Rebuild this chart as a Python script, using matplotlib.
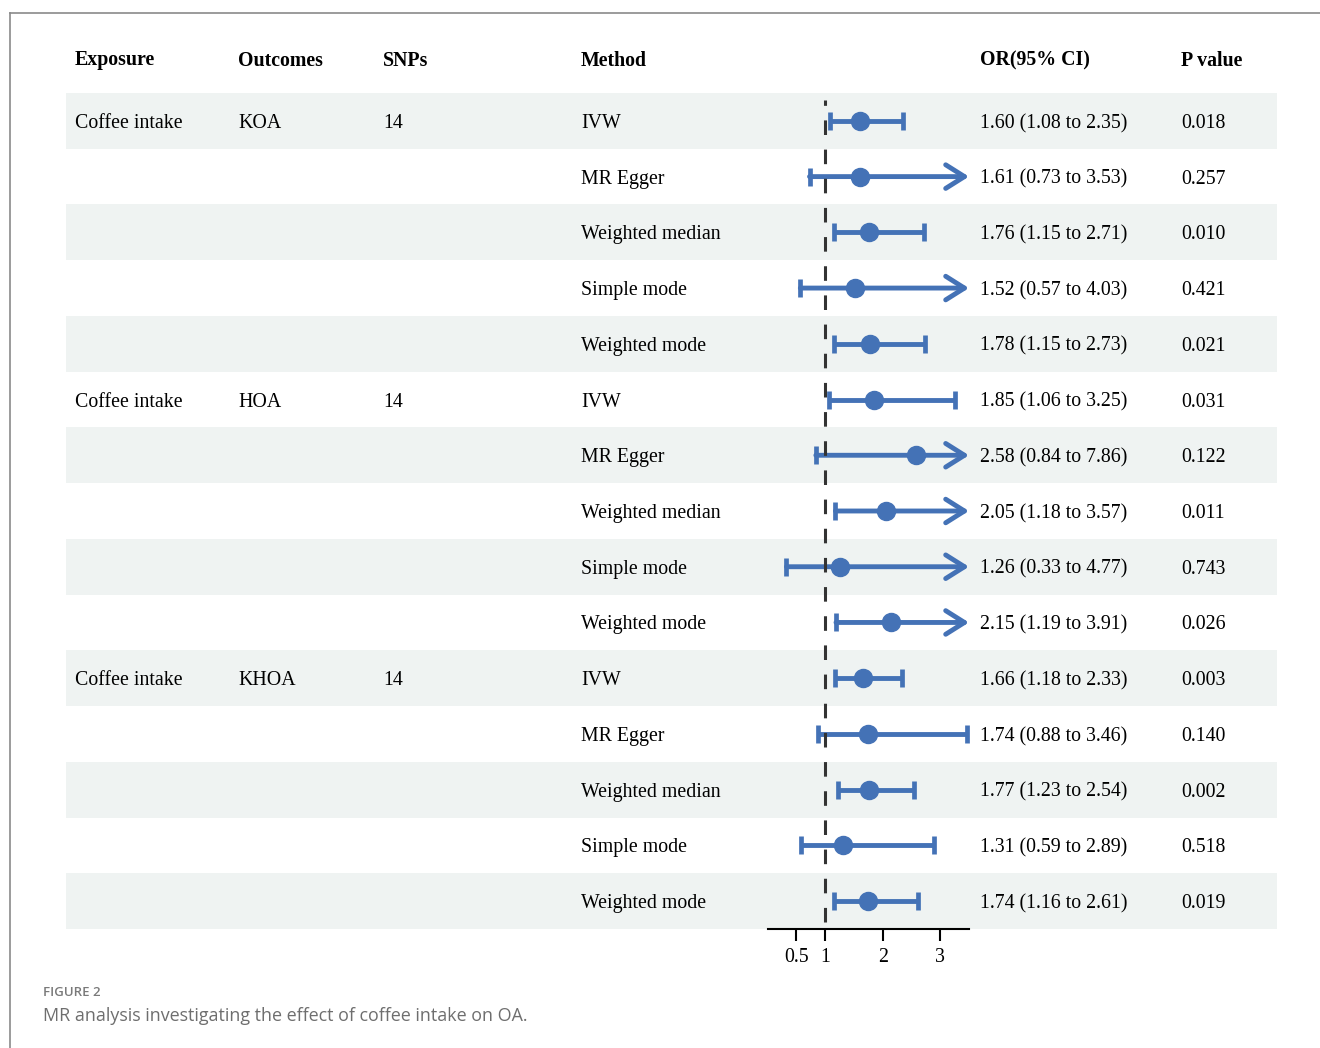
import matplotlib
matplotlib.use("Agg")
import matplotlib.pyplot as plt
from matplotlib.patches import Rectangle
from matplotlib.lines import Line2D

plt.rcParams['font.family'] = ['Liberation Serif', 'DejaVu Serif']
plt.rcParams['lines.scale_dashes'] = False

# ---------------- data ----------------
headers = ["Exposure", "Outcomes", "SNPs", "Method", "OR(95% CI)", "P value"]
exposures = ["Coffee intake", "", "", "", "",
             "Coffee intake", "", "", "", "",
             "Coffee intake", "", "", "", ""]
outcomes = ["KOA", "", "", "", "",
            "HOA", "", "", "", "",
            "KHOA", "", "", "", ""]
snps = ["14", "", "", "", "",
        "14", "", "", "", "",
        "14", "", "", "", ""]
methods = ["IVW", "MR Egger", "Weighted median", "Simple mode", "Weighted mode"] * 3
or_vals = [1.60, 1.61, 1.76, 1.52, 1.78,
           1.85, 2.58, 2.05, 1.26, 2.15,
           1.66, 1.74, 1.77, 1.31, 1.74]
ci_lower = [1.08, 0.73, 1.15, 0.57, 1.15,
            1.06, 0.84, 1.18, 0.33, 1.19,
            1.18, 0.88, 1.23, 0.59, 1.16]
ci_upper = [2.35, 3.53, 2.71, 4.03, 2.73,
            3.25, 7.86, 3.57, 4.77, 3.91,
            2.33, 3.46, 2.54, 2.89, 2.61]
p_values = ["0.018", "0.257", "0.010", "0.421", "0.021",
            "0.031", "0.122", "0.011", "0.743", "0.026",
            "0.003", "0.140", "0.002", "0.518", "0.019"]
x_ticks = [0.5, 1, 2, 3]
x_ticklabels = ["0.5", "1", "2", "3"]
x_range = (0, 3.5)
ref_line = 1

# ---------------- layout ----------------
W, H = 1320, 1048
fig = plt.figure(figsize=(W / 100, H / 100), dpi=100)
bg = fig.add_axes([0, 0, 1, 1])
bg.set_xlim(0, W)
bg.set_ylim(H, 0)
bg.axis('off')

FS = 14.3
blue = '#4472b6'
stripe = '#eff3f2'

top, bottom = 93, 929
n = len(methods)
rh = (bottom - top) / n
col_x = [75, 238, 383, 581, 980, 1181]
dy = 2.5  # baseline nudge so text centres match the rows

# frame lines
fig.add_artist(Line2D([10 / W, 1], [1 - 13 / H, 1 - 13 / H], color='#8a8a8a', lw=1.2))
fig.add_artist(Line2D([10 / W, 10 / W], [0, 1 - 13 / H], color='#8a8a8a', lw=1.2))

# header
for x, h in zip(col_x, headers):
    bg.text(x, 58 + dy, h, fontsize=FS, fontweight='bold', va='center', ha='left')

# rows
for i in range(n):
    yc = top + (i + 0.5) * rh
    if i % 2 == 0:
        bg.add_patch(Rectangle((66, top + i * rh), 1277 - 66, rh, color=stripe, lw=0, zorder=0))
    ci_txt = f"{or_vals[i]:.2f} ({ci_lower[i]:.2f} to {ci_upper[i]:.2f})"
    vals = [exposures[i], outcomes[i], snps[i], methods[i], ci_txt, p_values[i]]
    for x, v in zip(col_x, vals):
        if v:
            bg.text(x, yc + dy, v, fontsize=FS, va='center', ha='left')

# ---------------- forest panel ----------------
ax = fig.add_axes([767.5 / W, 1 - bottom / H, (969 - 767.5) / W, (bottom - top) / H])
ax.patch.set_alpha(0)
ax.set_xlim(*x_range)
ax.set_ylim(n + 0.5, 0.5)
for s in ['left', 'right', 'top']:
    ax.spines[s].set_visible(False)
ax.spines['bottom'].set_linewidth(1.5)
ax.set_yticks([])
ax.set_xticks(x_ticks)
ax.set_xticklabels(x_ticklabels, fontsize=FS)
ax.tick_params(axis='x', length=8.6, width=1.5, pad=5)

LW = 3.5
xmax = x_range[1]
for i in range(n):
    y = i + 1
    lo, up, est = ci_lower[i], ci_upper[i], or_vals[i]
    ax.plot([lo], [y], marker='|', ms=12.5, mew=3.4, color=blue, zorder=3,
            solid_capstyle='round')
    if up > xmax:
        ax.annotate('', xy=(xmax, y), xytext=(lo, y),
                    arrowprops=dict(arrowstyle='->,head_length=1.35,head_width=0.85',
                                    color=blue, lw=LW, shrinkA=0, shrinkB=0,
                                    capstyle='round', joinstyle='round'),
                    annotation_clip=False, zorder=3)
    else:
        ax.plot([lo, up], [y, y], color=blue, lw=LW, zorder=3, solid_capstyle='butt')
        ax.plot([up], [y], marker='|', ms=12.5, mew=3.4, color=blue, zorder=3)
    ax.plot([est], [y], marker='o', ms=13, color=blue, mec=blue, zorder=4)

ax.axvline(ref_line, ymin=(bottom - 922) / (bottom - top), ymax=(bottom - 100) / (bottom - top),
           color='#333333', lw=2.2, linestyle=(0, (10.5, 10.5)), zorder=5)

# ---------------- caption ----------------
fig.text(43 / W, 1 - 993 / H, "FIGURE 2", fontsize=9.5, color='#7a7a7a',
         fontweight='semibold', family=['Open Sans', 'DejaVu Sans'], va='center')
fig.text(43 / W, 1 - 1016 / H, "MR analysis investigating the effect of coffee intake on OA.",
         fontsize=12.9, color='#6e6e6e', family=['Open Sans', 'DejaVu Sans'], va='center')

fig.savefig('out.png', dpi=100)
